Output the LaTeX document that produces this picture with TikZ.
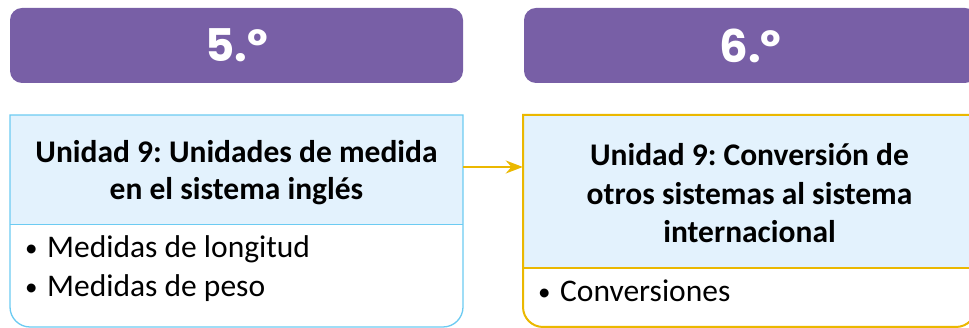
\documentclass[tikz,border=0pt]{standalone}
\usepackage{fontspec}
\setmainfont{Carlito}
\newfontfamily\headfont{Poppins}
\usetikzlibrary{arrows.meta}
\definecolor{purp}{HTML}{785FA6}
\definecolor{lblue}{HTML}{E3F2FD}
\definecolor{bblue}{HTML}{6CCBF2}
\definecolor{gold}{HTML}{EBB800}
\frenchspacing
\tikzset{
  head/.style={fill=purp, rounded corners=12pt, minimum width=453pt, minimum height=75pt,
    text=white, font=\headfont\bfseries\fontsize{45}{45}\selectfont, inner sep=0pt},
  titlebox/.style={minimum width=453pt, inner sep=0pt, fill=lblue},
  titletext/.style={inner sep=0pt, align=center},
  bodytext/.style={anchor=base west, inner sep=0pt, font=\fontsize{31.5}{34}\selectfont},
  link/.style={draw=gold, line width=2pt, -{Stealth[length=17pt,width=13pt]}}
}
\newcommand{\bul}{\makebox[22pt][l]{\raisebox{1.5pt}{\fontsize{25}{25}\selectfont •}}}
\begin{document}
\begin{tikzpicture}[x=1pt,y=1pt]
\useasboundingbox (0,0) rectangle (969,328);
\clip (0,0) rectangle (969,328);
% headers
\node[head] (h5) at (236.5,282.5) {5.º};
\node[head] (h6) at (750.5,282.5) {6.º};
% left box
\fill[white] (10,213) -- (10,21) arc[start angle=180,end angle=270,radius=20] -- (443,1) arc[start angle=270,end angle=360,radius=20] -- (463,213) -- cycle;
\node[titlebox, minimum height=109pt] (t5) at (236.5,158.5) {};
\node[titletext, font=\bfseries\fontsize{31.5}{37}\selectfont] (t5txt) at ([yshift=-3.5pt]t5.center) {Unidad 9: Unidades de medida\\en el sistema inglés};
\draw[bblue, line width=1.3pt] (10,213) -- (10,21) arc[start angle=180,end angle=270,radius=20] -- (443,1) arc[start angle=270,end angle=360,radius=20] -- (463,213) -- cycle;
\draw[bblue, line width=1.3pt] (t5.south west) -- (t5.south east);
\node[bodytext] (b5a) at (25,70) {\bul Medidas de longitud};
\node[bodytext] (b5b) at (25,31) {\bul Medidas de peso};
% right box
\fill[white] (523,213) -- (523,21) arc[start angle=180,end angle=270,radius=20] -- (956,1) arc[start angle=270,end angle=360,radius=20] -- (976,213) -- cycle;
\node[titlebox, minimum height=153pt] (t6) at (749.5,136.5) {};
\node[titletext, font=\bfseries\fontsize{31.5}{38.5}\selectfont] (t6txt) at ([yshift=-2pt]t6.center) {Unidad 9: Conversión de\\otros sistemas al sistema\\internacional};
\draw[gold, line width=2pt] (523,213) -- (523,21) arc[start angle=180,end angle=270,radius=20] -- (956,1) arc[start angle=270,end angle=360,radius=20] -- (976,213) -- cycle;
\draw[gold, line width=2pt] (t6.south west) -- (t6.south east);
\node[bodytext] (b6a) at (538,26) {\bul Conversiones};
% connector
\coordinate (a5) at ([yshift=2.5pt]t5.east);
\draw[link] (a5) -- (a5 -| t6.west);
\end{tikzpicture}
\end{document}
